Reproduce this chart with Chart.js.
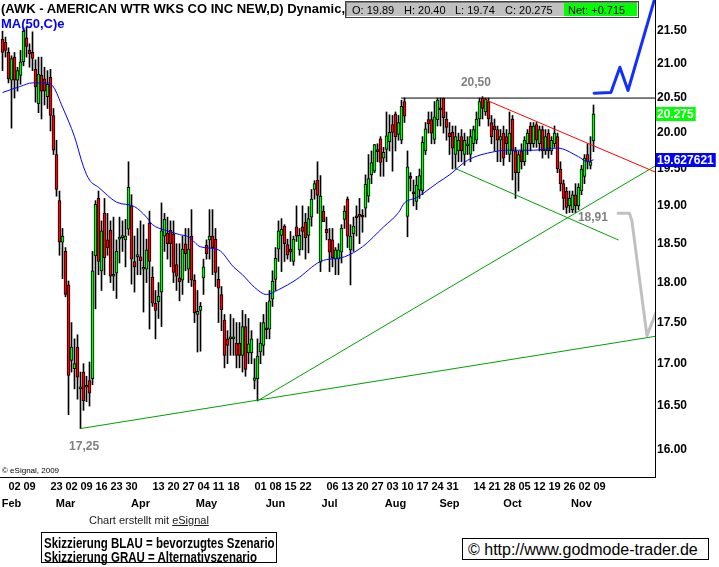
<!DOCTYPE html>
<html><head><meta charset="utf-8">
<script src="https://cdn.jsdelivr.net/npm/chart.js@4.4.0/dist/chart.umd.min.js"></script>
<style>
html,body{margin:0;padding:0;background:#fff;}
#wrap{position:relative;width:719px;height:567px;overflow:hidden;font-family:"Liberation Sans",Arial,sans-serif;}
#c{position:absolute;left:0;top:0;}
.t{position:absolute;white-space:nowrap;line-height:1;}
.nar{transform-origin:0 0;transform:scaleX(0.82);}
#ohlc{position:absolute;left:346px;top:2px;width:290px;height:13px;background:#c0c0c0;border-top:1px solid #808080;border-left:1px solid #808080;border-right:1px solid #fff;border-bottom:1px solid #fff;box-shadow:0 0 0 1px #404040;font:11px "Liberation Sans";}
#ohlc span{position:absolute;top:1px;}
#net{position:absolute;left:217px;top:0px;width:73px;height:13px;background:#00ff00;}
.box{position:absolute;border:1px solid #000;background:#fff;}
</style></head><body>
<div id="wrap">
<canvas id="c" width="719" height="567"></canvas>
<div class="t" style="left:1px;top:1px;font:bold 13px 'Liberation Sans';">(AWK - AMERICAN WTR WKS CO INC NEW,D) Dynamic,</div>
<div class="t" style="left:1px;top:16px;font:bold 13px 'Liberation Sans';color:#0000ff;">MA(50,C)e</div>
<div id="ohlc"><div id="net"></div>
<span style="left:5px">O: 19.89</span><span style="left:57px">H: 20.40</span><span style="left:108px">L: 19.74</span><span style="left:158px">C: 20.275</span><span style="left:221px">Net: +0.715</span></div>
<div class="t" style="left:2px;top:466px;font:8px 'Liberation Sans';">© eSignal, 2009</div>
<div class="t" style="left:89px;top:514px;font:11px 'Liberation Sans';color:#202020;">Chart erstellt mit <u>eSignal</u></div>
<div class="box" style="left:41px;top:532px;width:234px;height:29px;">
 <div class="t nar" style="left:2px;top:2px;font:bold 14px 'Liberation Sans';">Skizzierung BLAU = bevorzugtes Szenario</div>
 <div class="t nar" style="left:2px;top:16px;font:bold 14px 'Liberation Sans';">Skizzierung GRAU = Alternativszenario</div>
</div>
<div class="box" style="left:462px;top:538px;width:245px;height:20px;">
 <div class="t" style="left:5px;top:2px;font:16px 'Liberation Sans';">© http://www.godmode-trader.de</div>
</div>
</div>
<script>
// ---------- data ----------
const holidays = ['2009-02-16','2009-04-10','2009-05-25','2009-07-03','2009-09-07'];
function tradingDays(startISO, endISO){
  const out=[]; const d=new Date(startISO+'T00:00:00Z'); const e=new Date(endISO+'T00:00:00Z');
  while(d<=e){const wd=d.getUTCDay(); const s=d.toISOString().slice(0,10);
    if(wd!==0&&wd!==6&&!holidays.includes(s)) out.push(s); d.setUTCDate(d.getUTCDate()+1);}
  return out;
}
const categories = tradingDays('2009-01-29','2009-11-09');

const open = [
21.37,21.32,21.17,20.76,21.10,20.76,20.83,21.03,21.39,21.20,
21.17,20.92,20.42,20.83,20.78,20.52,20.80,20.25,19.70,19.07,
18.52,18.40,17.97,17.04,16.94,17.20,16.70,16.90,16.72,16.80,
16.82,18.34,19.10,18.15,18.90,18.55,18.68,18.08,18.12,18.56,
18.58,18.55,18.69,19.00,18.27,18.33,18.33,18.17,18.17,18.77,
18.07,17.74,17.76,17.88,18.60,18.64,18.68,18.63,18.23,18.06,
18.03,18.50,18.17,18.60,18.03,17.60,17.65,18.06,18.48,18.55,
18.60,18.56,18.04,17.85,17.53,17.30,17.30,17.30,17.25,17.25,
17.10,17.45,17.13,17.13,16.80,16.82,17.14,17.22,17.43,17.42,
17.79,18.04,18.43,18.61,18.73,18.49,18.43,18.27,18.72,18.42,
18.72,18.78,18.61,18.85,19.22,19.35,18.26,18.93,18.69,18.56,
18.55,18.30,18.30,18.39,18.82,19.09,18.42,18.63,18.86,18.88,
18.87,18.97,19.13,19.42,19.47,19.77,19.92,19.65,19.77,19.88,
20.12,20.27,19.98,19.90,20.45,18.86,19.40,19.19,19.06,19.21,
19.20,19.75,20.19,20.19,19.91,20.19,20.35,20.50,20.20,20.00,
20.01,19.70,19.75,19.95,19.70,19.82,19.70,19.85,19.90,20.20,
20.50,20.30,20.45,20.15,20.10,20.05,19.90,20.00,19.95,19.70,
20.20,19.75,19.45,19.75,19.60,19.85,20.10,19.85,20.12,19.85,
20.05,19.75,20.00,19.75,19.85,19.95,19.50,19.30,19.20,19.00,
18.95,19.15,19.00,19.20,19.40,19.70,19.55,19.89];
const high = [
21.49,21.40,21.24,21.12,21.17,20.95,21.20,21.54,21.55,21.30,
21.48,21.06,21.10,21.10,20.95,20.90,20.92,20.35,19.90,19.20,
18.70,18.45,18.02,17.50,17.30,17.35,16.90,17.00,16.85,17.02,
18.40,19.07,19.20,18.80,19.10,18.90,18.80,18.85,18.55,18.85,
18.80,18.82,19.60,19.15,18.60,18.70,18.80,18.75,18.56,18.93,
18.20,17.90,18.00,19.04,18.90,18.85,18.80,18.80,18.50,18.50,
18.60,18.70,18.70,18.95,18.10,17.90,17.75,18.30,18.55,18.95,
18.95,18.70,18.20,17.95,17.60,17.40,17.60,17.55,17.50,17.50,
17.65,17.60,17.55,17.40,17.06,17.30,17.50,17.60,17.75,17.90,
18.15,18.45,18.80,18.83,18.75,18.56,18.66,18.60,19.00,18.70,
19.00,18.90,18.99,19.22,19.34,19.60,19.41,19.00,18.85,18.70,
18.70,18.45,18.50,18.75,19.00,19.12,18.75,18.85,19.00,19.10,
18.95,19.42,19.70,19.75,19.84,19.85,19.95,19.80,20.30,20.26,
20.25,20.30,20.25,20.47,20.50,19.75,19.45,19.35,19.40,19.50,
19.95,20.15,20.30,20.30,20.45,20.50,20.50,20.50,20.30,20.15,
20.10,20.10,20.00,20.05,20.00,19.95,20.05,20.10,20.30,20.50,
20.52,20.50,20.50,20.25,20.20,20.10,20.05,20.10,20.05,20.30,
20.25,19.80,19.75,19.85,19.95,20.05,20.15,20.15,20.15,20.10,
20.10,20.05,20.05,19.95,20.10,20.00,19.60,19.35,19.25,19.20,
19.20,19.30,19.30,19.55,19.70,19.85,19.95,20.40];
const low = [
20.90,21.10,20.72,20.07,20.50,20.60,20.70,20.97,21.10,20.95,
20.90,20.44,20.29,20.20,20.40,20.35,20.03,19.70,19.13,18.35,
18.05,17.82,16.40,16.90,16.70,16.58,16.24,16.45,16.55,16.50,
16.75,17.67,18.10,17.90,18.10,18.35,18.00,17.90,17.80,18.25,
18.40,18.20,18.61,17.98,17.88,18.10,18.10,17.63,18.00,17.42,
17.70,17.30,17.55,17.45,18.40,18.30,18.20,18.00,17.90,17.77,
17.85,18.15,18.00,17.95,17.50,17.14,17.15,17.85,18.30,18.30,
18.10,17.95,17.50,17.40,16.95,17.00,17.10,17.10,16.95,16.95,
16.90,16.85,17.00,17.00,16.70,16.56,17.00,17.10,17.30,17.30,
17.70,17.90,18.27,18.14,18.27,18.30,18.27,18.22,18.53,18.35,
18.42,18.30,18.38,18.73,19.09,18.90,18.14,18.80,18.55,18.14,
18.20,18.10,18.10,18.25,18.70,18.45,17.97,18.40,18.60,18.50,
18.65,18.85,19.05,19.30,19.45,19.60,19.40,19.40,19.60,19.75,
19.47,19.75,19.90,19.85,20.15,18.59,19.20,19.00,18.95,19.10,
19.15,19.70,20.00,19.85,19.85,20.10,20.10,20.00,19.90,19.70,
19.50,19.50,19.60,19.60,19.55,19.70,19.60,19.75,19.85,20.10,
20.20,20.25,20.10,19.85,19.75,19.60,19.60,19.55,19.70,19.60,
19.35,19.10,19.20,19.50,19.55,19.70,19.75,19.80,19.80,19.75,
19.65,19.70,19.65,19.70,19.80,19.45,19.20,18.95,18.90,18.91,
18.91,18.91,18.95,19.15,19.30,19.50,19.50,19.74];
const close = [
21.17,21.20,20.78,21.08,20.76,20.90,21.03,21.49,21.26,21.15,
21.08,20.66,20.85,20.60,20.60,20.70,20.25,19.76,19.22,18.52,
18.60,17.85,16.86,17.20,17.00,16.84,16.72,16.56,16.74,16.65,
18.15,19.02,18.27,18.67,18.32,18.45,18.08,18.10,18.40,18.58,
18.60,18.60,19.25,18.30,18.20,18.36,18.28,18.19,18.42,18.27,
17.74,17.65,17.83,18.67,18.82,18.50,18.50,18.13,18.08,18.01,
18.43,18.37,18.43,18.03,17.62,17.64,17.70,18.20,18.37,18.60,
18.45,18.13,17.93,17.66,17.10,17.22,17.32,17.32,17.10,17.10,
17.45,16.93,17.24,17.30,16.83,17.09,17.25,17.50,17.41,17.77,
18.02,18.31,18.67,18.69,18.50,18.35,18.39,18.56,18.60,18.61,
18.66,18.58,18.83,19.09,19.30,19.14,19.13,18.79,18.64,18.39,
18.32,18.42,18.42,18.70,18.93,18.60,18.60,18.73,18.84,18.86,
18.85,19.29,19.37,19.59,19.84,19.74,19.59,19.73,19.96,20.01,
20.01,19.95,20.15,20.38,20.24,19.53,19.37,19.16,19.28,19.41,
19.87,20.06,20.13,20.00,20.23,20.47,20.33,20.22,20.08,19.95,
19.79,19.95,19.90,19.75,19.90,19.83,19.95,20.05,20.20,20.45,
20.35,20.48,20.20,19.95,20.05,19.90,19.95,19.65,19.85,20.00,
19.75,19.45,19.70,19.60,19.90,20.00,19.85,20.10,19.90,20.05,
19.75,19.95,19.75,19.90,20.00,19.50,19.30,19.10,18.98,19.10,
19.15,19.00,19.25,19.50,19.65,19.60,19.60,20.275];

// 50-day moving average, read at sample bars
const maBars   = [0,6,10,15,17,20,24,27,29,32,38,44,48,50,54,59,62,66,72,77,80,84,88,92,98,106,114,120,127,132,134,138,145,149,155,164,169,177,185,192,195,197];
const maValues = [20.58,20.67,20.72,20.72,20.66,20.37,19.95,19.53,19.35,19.25,19.05,18.99,18.85,18.75,18.68,18.62,18.59,18.46,18.42,18.20,18.10,17.94,17.85,17.91,18.04,18.27,18.33,18.46,18.72,18.91,19.04,19.11,19.31,19.42,19.62,19.74,19.76,19.76,19.79,19.67,19.60,19.627621];

const yTicks = [16.00,16.50,17.00,17.50,18.00,18.50,19.00,19.50,20.00,20.50,21.00,21.50];
const dayTickDates = ['2009-02-02','2009-02-09','2009-02-23','2009-03-02','2009-03-09','2009-03-16','2009-03-23','2009-03-30',
 '2009-04-13','2009-04-20','2009-04-27','2009-05-04','2009-05-11','2009-05-18','2009-06-01','2009-06-08','2009-06-15','2009-06-22',
 '2009-07-06','2009-07-13','2009-07-20','2009-07-27','2009-08-03','2009-08-10','2009-08-17','2009-08-24','2009-08-31',
 '2009-09-14','2009-09-21','2009-09-28','2009-10-05','2009-10-12','2009-10-19','2009-10-26','2009-11-02','2009-11-09'];
const monthTickDates = ['2009-02-03','2009-03-02','2009-04-06','2009-05-07','2009-06-10','2009-07-07','2009-08-06','2009-09-01','2009-10-01','2009-11-03'];
const monthNames = ['Feb','Mar','Apr','May','Jun','Jul','Aug','Sep','Oct','Nov'];

// drawn analysis lines: [bar, price] (bars beyond the data are future space)
const lineHigh   = [[133,20.50],[217.5,20.50]];
const lineRed    = [[160.2,20.49],[217.5,19.46]];
const lineUp     = [[85,16.56],[217.5,19.54]];
const lineDown   = [[150.8,19.51],[205.2,18.55]];
const lineLong   = [[26,16.24],[217.5,17.33]];
const scenBlue   = [[197.2,20.57],[202.8,20.58],[205.8,20.95],[208.5,20.61],[217.8,22.05]];
const scenGray   = [[205.2,18.90],[209.0,18.90],[209.8,18.80],[214.8,17.34],[217.8,17.62]];
const notes = [{text:'20,50',bar:157.8,price:20.73},{text:'18,91',bar:196.8,price:18.84},{text:'17,25',bar:27.2,price:16.03}];

// ---------- chart ----------
const idxOf = d => categories.indexOf(d);
const dayLabel = {}; dayTickDates.forEach(d => dayLabel[idxOf(d)] = d.slice(8,10));
const monLabel = {}; monthTickDates.forEach((d,k) => monLabel[idxOf(d)] = monthNames[k]);
const pts = arr => arr.map(p => ({x:p[0], y:p[1]}));
const bars = categories.map((d,i)=>i);

const XMIN = -0.8333, XMAX = 217.5;
const tickFont = {family:'Liberation Sans', weight:'bold', size:11};
const noPad = s => { s.paddingTop = 0; s.paddingBottom = 0; s.paddingLeft = 0; s.paddingRight = 0; };

const lineDS = (data, color, width, order) => ({type:'line', data:pts(data), borderColor:color, borderWidth:width, pointRadius:0, tension:0, fill:false, order:order, borderJoinStyle:'round', borderCapStyle:'round'});

const overlay = {
  id:'overlay',
  afterDraw(chart){
    const ctx = chart.ctx, xs = chart.scales.x, ys = chart.scales.y;
    ctx.save();
    ctx.font = 'bold 12px "Liberation Sans"'; ctx.fillStyle = '#808080';
    ctx.textAlign = 'center'; ctx.textBaseline = 'middle';
    notes.forEach(n => ctx.fillText(n.text, xs.getPixelForValue(n.bar), ys.getPixelForValue(n.price)));
    const boxes = [
      {v: close[close.length-1], text: String(close[close.length-1]), bg:'#00ff00'},
      {v: maValues[maValues.length-1], text: String(maValues[maValues.length-1]), bg:'#0000ff'}];
    ctx.textAlign = 'left';
    boxes.forEach(b => {
      const y = Math.round(ys.getPixelForValue(b.v));
      const w = ctx.measureText(b.text).width + 3;
      ctx.fillStyle = b.bg; ctx.fillRect(chart.chartArea.right + 1, y - 7, w, 14);
      ctx.fillStyle = '#ffffff'; ctx.fillText(b.text, chart.chartArea.right + 2, y + 0.5);
    });
    ctx.restore();
  }
};

new Chart(document.getElementById('c'), {
  type:'bar',
  data:{
    datasets:[
      lineDS(scenBlue,'#1030ff',3,0),
      lineDS(scenGray,'#c0c0c0',3,0),
      {type:'line', data: maBars.map((b,k)=>({x:b, y:maValues[k]})), borderColor:'#0000ff', borderWidth:1, pointRadius:0, tension:0.4, cubicInterpolationMode:'monotone', order:0},
      lineDS(lineHigh,'#000000',1,0),
      lineDS(lineRed,'#ff0000',1,0),
      lineDS(lineUp,'#00a000',1,0),
      lineDS(lineDown,'#00a000',1,0),
      lineDS(lineLong,'#00a000',1,0),
      {type:'bar', data: bars.map(i=>({x:i, y:[open[i], close[i]]})), grouped:false, barThickness:3, minBarLength:2,
       backgroundColor: bars.map(i=> close[i]>=open[i] ? '#00ff00' : '#ff0000'), borderColor:'#000000', borderWidth:1, borderSkipped:false, order:1},
      {type:'bar', data: bars.map(i=>({x:i, y:[low[i], high[i]]})), grouped:false, barThickness:1, backgroundColor:'#000000', borderWidth:0, order:2}
    ]
  },
  options:{
    responsive:false, animation:false, events:[], devicePixelRatio:1,
    layout:{padding:{left:0,right:0,top:0,bottom:54}},
    plugins:{legend:{display:false}, tooltip:{enabled:false}},
    scales:{
      x:{type:'linear', min:XMIN, max:XMAX, offset:false, bounds:'data',
         grid:{display:false, drawTicks:false}, border:{display:true, color:'#000'},
         afterBuildTicks: s => { s.ticks = Object.keys(dayLabel).map(k=>({value:+k})); },
         afterFit: s => { s.height = 18; noPad(s); },
         ticks:{autoSkip:false, maxRotation:0, font:tickFont, color:'#000', padding:3, labelOffset:6, callback: v => dayLabel[v] || ''}},
      x2:{type:'linear', position:'bottom', min:XMIN, max:XMAX, offset:false, bounds:'data',
         grid:{display:false, drawTicks:false}, border:{display:false},
         afterBuildTicks: s => { s.ticks = Object.keys(monLabel).map(k=>({value:+k})); },
         afterFit: s => { s.height = 18; noPad(s); },
         ticks:{autoSkip:false, maxRotation:0, font:tickFont, color:'#000', padding:2, callback: v => monLabel[v] || ''}},
      y:{type:'logarithmic', position:'right', min:15.695, max:21.967, bounds:'data',
         grid:{display:false, drawTicks:false}, border:{display:true, color:'#000'},
         afterBuildTicks: s => { s.ticks = yTicks.map(v=>({value:v})); },
         afterFit: s => { s.width = 64; noPad(s); },
         ticks:{autoSkip:false, font:{family:'Liberation Sans', weight:'bold', size:12}, color:'#000', padding:2, callback: v => Number(v).toFixed(2)}}
    }
  },
  plugins:[overlay]
});
</script>
</body></html>
